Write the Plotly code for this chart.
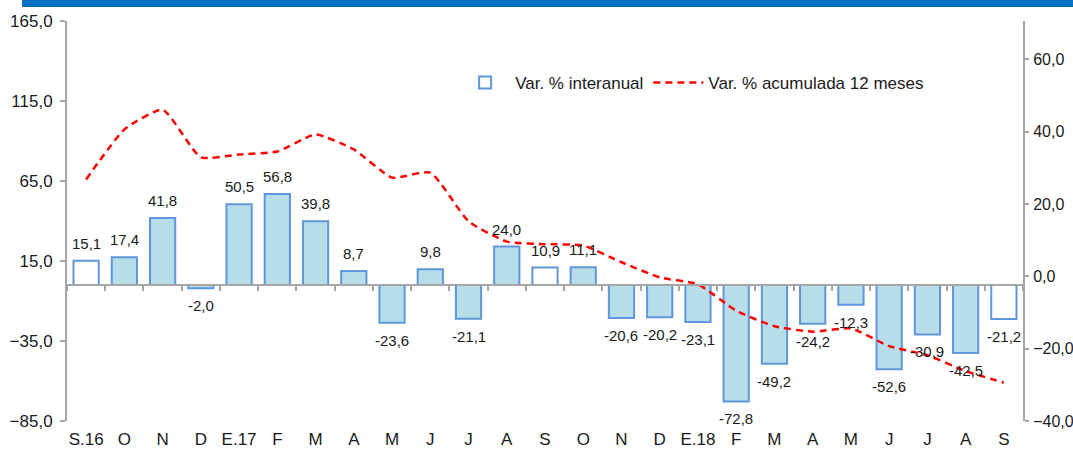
import plotly.graph_objects as go

categories = ["S.16", "O", "N", "D", "E.17", "F", "M", "A", "M", "J", "J", "A", "S",
              "O", "N", "D", "E.18", "F", "M", "A", "M", "J", "J", "A", "S"]
var_interanual = [15.1, 17.4, 41.8, -2.0, 50.5, 56.8, 39.8, 8.7, -23.6, 9.8, -21.1, 24.0, 10.9,
                  11.1, -20.6, -20.2, -23.1, -72.8, -49.2, -24.2, -12.3, -52.6, -30.9, -42.5, -21.2]
var_acumulada = [26.8, 40.6, 46.1, 32.9, 33.7, 34.5, 39.2, 35.1, 27.3, 28.7, 15.2, 9.6, 8.9,
                 8.5, 3.9, -0.3, -2.2, -9.5, -13.8, -15.3, -14.4, -19.3, -21.8, -26.2, -29.4]
left_ticks = [-85, -35, 15, 65, 115, 165]
right_ticks = [-40, -20, 0, 20, 40, 60]

Y1 = [-85, 165]
Y2 = [-40, 70.6]

xs = list(range(len(categories)))
fill_colors = ["#FFFFFF" if c.startswith("S") else "#B7DDE8" for c in categories]
FONT = "Liberation Sans, Arial, sans-serif"
AXIS_GREY = "#A6A6A6"
TXT = "#1A1A1A"

fig = go.Figure()
fig.add_trace(go.Bar(
    x=xs, y=var_interanual, name="Var. % interanual",
    marker=dict(color=fill_colors, line=dict(color="#5F96DC", width=2)),
    width=0.66, xaxis="x", yaxis="y",
))
fig.add_trace(go.Scatter(
    x=xs, y=var_acumulada, name="Var. % acumulada 12 meses", mode="lines",
    line=dict(color="#FF0000", width=2.5, dash="7px,5px", shape="spline", smoothing=0.5),
    xaxis="x2", yaxis="y2",
))

for x, v in zip(xs, var_interanual):
    fig.add_annotation(
        x=x, y=v, xref="x", yref="y",
        text=f"{v:.1f}".replace(".", ","),
        showarrow=False,
        yanchor="bottom" if v >= 0 else "top",
        yshift=7 if v >= 0 else -7,
        font=dict(family=FONT, size=15, color=TXT),
    )

zero_pos = (0 - Y1[0]) / (Y1[1] - Y1[0])

fig.add_shape(type="rect", xref="paper", yref="paper",
              x0=-0.047, x1=1.06, y0=1.035, y1=1.06,
              fillcolor="#0070C0", line=dict(width=0), layer="above")

fig.update_layout(
    width=1073, height=451,
    margin=dict(l=67, r=50, t=21, b=30, autoexpand=False),
    paper_bgcolor="white", plot_bgcolor="white",
    separators=",.",
    font=dict(family=FONT, size=17, color=TXT),
    showlegend=True,
    legend=dict(orientation="h", x=0.406, y=0.845, xanchor="left", yanchor="middle",
                font=dict(family=FONT, size=17, color=TXT), itemwidth=50,
                bgcolor="rgba(0,0,0,0)", traceorder="normal"),
    xaxis=dict(range=[-0.5, len(categories) - 0.5], tickvals=xs, ticktext=categories,
               showline=False, ticks="", showgrid=False, zeroline=False, automargin=False,
               ticklabelstandoff=6, tickfont=dict(size=17)),
    xaxis2=dict(range=[-0.5, len(categories) - 0.5], overlaying="x", anchor="free",
                position=zero_pos, showline=True, linecolor=AXIS_GREY, linewidth=2,
                ticks="outside", ticklen=5, tickcolor=AXIS_GREY, tickwidth=2,
                tickvals=[i - 0.5 for i in range(len(categories) + 1)], automargin=False,
                showticklabels=False, showgrid=False, zeroline=False),
    yaxis=dict(range=Y1, tickvals=left_ticks, tickformat=".1f", showgrid=False,
               zeroline=False, showline=True, linecolor=AXIS_GREY, linewidth=2,
               ticks="outside", ticklen=5, tickcolor=AXIS_GREY, tickwidth=2,
               ticklabelstandoff=4, tickfont=dict(size=17), automargin=False),
    yaxis2=dict(range=Y2, tickvals=right_ticks, tickformat=".1f", overlaying="y",
                side="right", anchor="x2", showgrid=False, zeroline=False, showline=True,
                linecolor=AXIS_GREY, linewidth=2, ticks="outside", ticklen=4,
                tickcolor=AXIS_GREY, tickwidth=2, ticklabelstandoff=1,
                tickfont=dict(size=16), automargin=False),
    bargap=0.34,
)

fig.write_html("out.html", config={"displayModeBar": False},
               post_script="document.body.style.margin='0';")
